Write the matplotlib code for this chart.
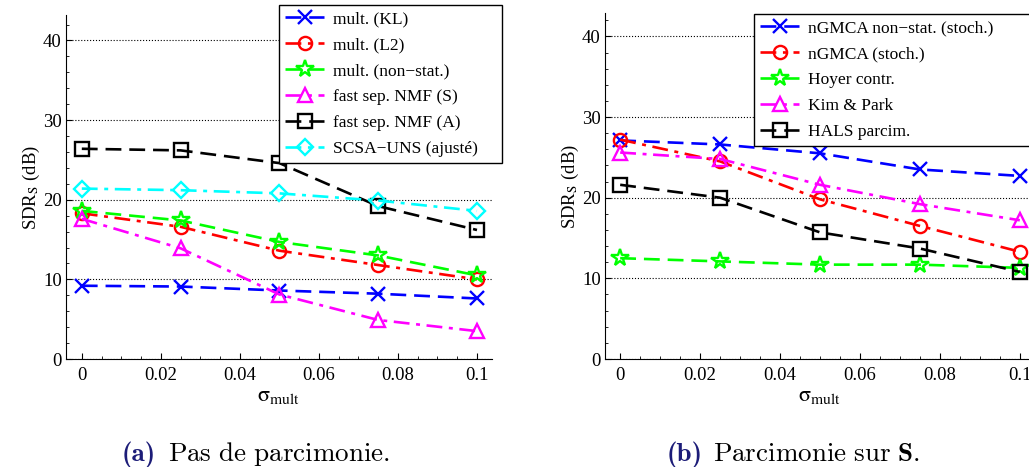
import numpy as np
import matplotlib
matplotlib.use("Agg")
import matplotlib.pyplot as plt
from matplotlib.ticker import AutoMinorLocator, MultipleLocator

plt.rcParams['font.family'] = ['Liberation Serif', 'DejaVu Serif']
plt.rcParams['mathtext.fontset'] = 'stix'

## Data
sigma = [0, 0.025, 0.05, 0.075, 0.1]

# (a) no sparsity
labels_a = ["mult. (KL)", "mult. (L2)", "mult. (non\u2212stat.)",
            "fast sep. NMF (S)", "fast sep. NMF (A)", "SCSA\u2212UNS (ajust\u00e9)"]
kl = [9.2, 9.1, 8.6, 8.2, 7.6]
l2 = [18.3, 16.6, 13.6, 11.8, 10.0]
nonstat = [18.6, 17.4, 14.7, 13.0, 10.5]
fastsep_s = [17.6, 13.9, 8.1, 4.9, 3.5]
fastsep_a = [26.4, 26.2, 24.6, 19.2, 16.2]
scsa = [21.4, 21.2, 20.8, 19.9, 18.6]

# (b) sparsity on S
labels_b = ["nGMCA non\u2212stat. (stoch.)", "nGMCA (stoch.)", "Hoyer contr.",
            "Kim & Park", "HALS parcim."]
ngmca_ns = [27.1, 26.6, 25.5, 23.5, 22.7]
ngmca = [27.2, 24.5, 19.8, 16.5, 13.3]
hoyer = [12.5, 12.1, 11.7, 11.7, 11.3]
kimpark = [25.6, 24.8, 21.6, 19.2, 17.2]
hals = [21.6, 20.0, 15.7, 13.7, 10.8]

BLUE, RED, GREEN = (0, 0, 1), (1, 0, 0), (0, 1, 0)
MAGENTA, BLACK, CYAN = (1, 0, 1), (0, 0, 0), (0, 1, 1)
dash = (0, (6, 3))
dashdot = (0, (6, 2.5, 1.5, 2.5))

style_a = [(BLUE, 'x', dash), (RED, 'o', dashdot), (GREEN, '*', dash),
           (MAGENTA, '^', dashdot), (BLACK, 's', dash), (CYAN, 'D', dashdot)]
style_b = [(BLUE, 'x', dash), (RED, 'o', dashdot), (GREEN, '*', dash),
           (MAGENTA, '^', dashdot), (BLACK, 's', dash)]

fig = plt.figure(figsize=(10.29, 4.67), dpi=100)
W, H = 1029.0, 467.0


def setup(ax, xlim, ylim):
    ax.set_xlim(*xlim)
    ax.set_ylim(*ylim)
    ax.spines['top'].set_visible(False)
    ax.spines['right'].set_visible(False)
    ax.set_xticks([0, 0.02, 0.04, 0.06, 0.08, 0.1])
    ax.set_xticklabels(["0", "0.02", "0.04", "0.06", "0.08", "0.1"])
    ax.yaxis.set_major_locator(MultipleLocator(10))
    ax.xaxis.set_minor_locator(AutoMinorLocator(4))
    ax.yaxis.set_minor_locator(AutoMinorLocator(5))
    ax.tick_params(which='both', direction='in', labelsize=13.5)
    ax.tick_params(axis='x', which='major', length=4, pad=6)
    ax.tick_params(axis='y', which='major', length=4, pad=3)
    ax.tick_params(which='minor', length=2)
    ax.yaxis.grid(True, which='major', linestyle=':', color='k', linewidth=0.8)
    ax.set_axisbelow(True)
    ax.set_xlabel(r"$\mathrm{\sigma}_{\mathrm{mult}}$", fontsize=16, labelpad=2)
    ax.set_ylabel(r"SDR$_{\mathrm{S}}$ (dB)", fontsize=13.5, labelpad=1)


def plot_series(ax, series, labels, styles):
    for y, lab, (c, m, ls) in zip(series, labels, styles):
        ms = 13 if m == '*' else 9.5
        if m == 'D':
            ms = 8.5
        ax.plot(sigma, y, color=c, linestyle=ls, linewidth=1.9, marker=m,
                markersize=ms, markerfacecolor='none' if m != 'x' else c,
                markeredgecolor=c, markeredgewidth=1.7, label=lab)


def add_legend(ax, x0, y0, x1, y1):
    # legend box given in pixel corners (left, top, right, bottom)
    leg = ax.legend(loc='upper left',
                    bbox_to_anchor=(x0 / W, 1 - y1 / H, (x1 - x0) / W, (y1 - y0) / H),
                    bbox_transform=fig.transFigure, borderaxespad=0, mode='expand',
                    fontsize=12.5, fancybox=False, framealpha=1, edgecolor='k',
                    handlelength=2.25, labelspacing=0.56, borderpad=0.35,
                    handletextpad=0.5)
    leg.get_frame().set_linewidth(1.0)


# left panel
axa = fig.add_axes([66 / W, 1 - 359 / H, (492 - 66) / W, (359 - 15) / H])
setup(axa, (-0.004, 0.1038), (0, 43.2))
plot_series(axa, [kl, l2, nonstat, fastsep_s, fastsep_a, scsa], labels_a, style_a)
add_legend(axa, 279, 5, 502, 159)

# right panel
axb = fig.add_axes([605 / W, 1 - 359 / H, (1035 - 605) / W, (359 - 13) / H])
setup(axb, (-0.0038, 0.1038), (0, 42.9))
plot_series(axb, [ngmca_ns, ngmca, hoyer, kimpark, hals], labels_b, style_b)
add_legend(axb, 754, 14, 1031, 145)

# captions
navy = '#1c1c78'
fig.text(122 / W, 1 - 461 / H, "(a)", color=navy, fontsize=19.5, family='cmb10',
         va='baseline', ha='left')
fig.text(667 / W, 1 - 461 / H, "(b)", color=navy, fontsize=19.5, family='cmb10',
         va='baseline', ha='left')
cap = dict(fontsize=19.5, va='baseline', ha='left', math_fontfamily='cm')
fig.text(168 / W, 1 - 461 / H, r"$\mathrm{Pas\ de\ parcimonie.}$", **cap)
fig.text(713 / W, 1 - 461 / H, r"$\mathrm{Parcimonie\ sur\ }\mathbf{S}\mathrm{.}$", **cap)

fig.savefig("out.png", dpi=100)
